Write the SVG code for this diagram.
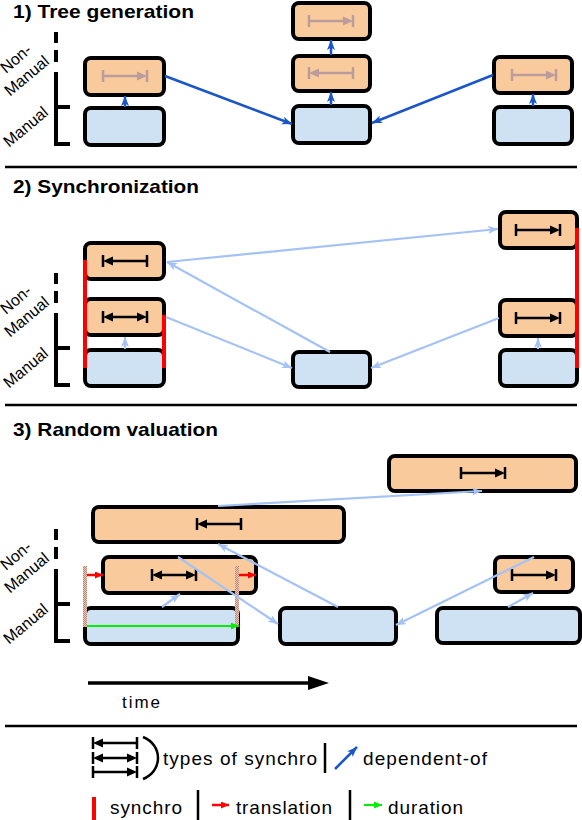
<svg xmlns="http://www.w3.org/2000/svg" width="582" height="820" viewBox="0 0 582 820">
<style>
.t{font-family:"Liberation Sans",Arial,sans-serif;fill:#000}
.title{font-size:19px;font-weight:bold}
.lab{font-size:16px}
.leg{font-size:19px}
.or{fill:#f9cb9c;stroke:#000;stroke-width:4}
.bl{fill:#cfe2f3;stroke:#000;stroke-width:4}
.sep{stroke:#000;stroke-width:2.5}
.axis{fill:none;stroke:#000;stroke-width:4}
.dk{stroke:#1a56c8;stroke-width:2.5;fill:none;marker-end:url(#mDk)}
.lt{stroke:#a4c2f4;stroke-width:2.2;fill:none;marker-end:url(#mLt)}
.red{fill:#ff0000}
</style>
<defs>
<marker id="mDk" markerUnits="userSpaceOnUse" markerWidth="12" markerHeight="10" refX="10" refY="4" orient="auto"><path d="M0,0L10,4L0,8L2.5,4Z" fill="#1a56c8"/></marker>
<marker id="mLt" markerUnits="userSpaceOnUse" markerWidth="12" markerHeight="10" refX="10" refY="4" orient="auto"><path d="M0,0L10,4L0,8L2.5,4Z" fill="#a4c2f4"/></marker>
<marker id="mRed" markerUnits="userSpaceOnUse" markerWidth="10" markerHeight="8" refX="8" refY="3.5" orient="auto"><path d="M0,0L8,3.5L0,7Z" fill="#ff0000"/></marker>
<marker id="mGr" markerUnits="userSpaceOnUse" markerWidth="10" markerHeight="8" refX="8" refY="3.5" orient="auto"><path d="M0,0L8,3.5L0,7Z" fill="#00ee00"/></marker>
<pattern id="hatch" patternUnits="userSpaceOnUse" width="2" height="2"><rect width="2" height="2" fill="#e8cabd"/><rect width="1" height="1" fill="#c08670"/><rect x="1" y="1" width="1" height="1" fill="#c08670"/></pattern>
<g id="sR"><path d="M0,-6V6M44,-6V6M0,0H36" stroke="currentColor" stroke-width="2.5" fill="none"/><path d="M44,0L34,-4.5L34,4.5Z" fill="currentColor"/></g>
<g id="sL"><path d="M0,-6V6M44,-6V6M8,0H44" stroke="currentColor" stroke-width="2.5" fill="none"/><path d="M0,0L10,-4.5L10,4.5Z" fill="currentColor"/></g>
<g id="sB"><path d="M0,-6V6M44,-6V6M8,0H36" stroke="currentColor" stroke-width="2.5" fill="none"/><path d="M0,0L10,-4.5L10,4.5Z" fill="currentColor"/><path d="M44,0L34,-4.5L34,4.5Z" fill="currentColor"/></g>
<g id="axis"><path class="axis" d="M56,32V43M56,50V62M56,72V146M54,107H70M54,144H70"/>
<g transform="translate(16,59) rotate(-40)"><text class="t lab" x="0" y="5" text-anchor="middle">Non-</text></g>
<g transform="translate(27,76) rotate(-40)"><text class="t lab" x="0" y="5" text-anchor="middle">Manual</text></g>
<g transform="translate(26,127) rotate(-40)"><text class="t lab" x="0" y="5" text-anchor="middle">Manual</text></g>
</g>
</defs>

<!-- titles and separators -->
<text class="t title" x="13" y="18" textLength="181" lengthAdjust="spacingAndGlyphs">1) Tree generation</text>
<text class="t title" x="13" y="193" textLength="186" lengthAdjust="spacingAndGlyphs">2) Synchronization</text>
<text class="t title" x="13" y="436" textLength="205" lengthAdjust="spacingAndGlyphs">3) Random valuation</text>
<line class="sep" x1="5" y1="167" x2="577" y2="167"/>
<line class="sep" x1="5" y1="405" x2="577" y2="405"/>
<line class="sep" x1="5" y1="726" x2="577" y2="726"/>

<use href="#axis"/>
<use href="#axis" transform="translate(0,241)"/>
<use href="#axis" transform="translate(0,497)"/>

<!-- Section 1 nodes -->
<g id="s1-left-nm"><rect class="or" x="85" y="58" width="79" height="37" rx="6"/><use href="#sR" transform="translate(103,76)" color="#ba9c9c"/></g>
<g id="s1-left-m"><rect class="bl" x="85" y="108" width="79" height="37" rx="6"/></g>
<g id="s1-mid-nm2"><rect class="or" x="293" y="3" width="77" height="36" rx="6"/><use href="#sR" transform="translate(309,21)" color="#ba9c9c"/></g>
<g id="s1-mid-nm1"><rect class="or" x="293" y="56" width="77" height="35" rx="6"/><use href="#sL" transform="translate(309,73)" color="#ba9c9c"/></g>
<g id="s1-mid-m"><rect class="bl" x="293" y="106" width="77" height="37" rx="6"/></g>
<g id="s1-right-nm"><rect class="or" x="494" y="57" width="78" height="36" rx="6"/><use href="#sR" transform="translate(512,75)" color="#ba9c9c"/></g>
<g id="s1-right-m"><rect class="bl" x="494" y="107" width="78" height="37" rx="6"/></g>

<!-- Section 2 nodes -->
<g id="s2-left-nm2"><rect class="or" x="85" y="243" width="79" height="36" rx="6"/><use href="#sL" transform="translate(103,261)" color="#000"/></g>
<g id="s2-left-nm1"><rect class="or" x="85" y="299" width="79" height="36" rx="6"/><use href="#sB" transform="translate(103,317)" color="#000"/></g>
<g id="s2-left-m"><rect class="bl" x="85" y="350" width="79" height="36" rx="6"/></g>
<g id="s2-mid-m"><rect class="bl" x="293" y="352" width="77" height="35" rx="6"/></g>
<g id="s2-right-nm2"><rect class="or" x="500" y="212" width="77" height="36" rx="6"/><use href="#sR" transform="translate(516,230)" color="#000"/></g>
<g id="s2-right-nm1"><rect class="or" x="500" y="300" width="77" height="36" rx="6"/><use href="#sR" transform="translate(516,318)" color="#000"/></g>
<g id="s2-right-m"><rect class="bl" x="500" y="350" width="77" height="36" rx="6"/></g>
<g id="s2-synchro">
<rect class="red" x="83" y="260" width="4" height="108"/>
<rect class="red" x="162" y="315" width="4" height="53"/>
<rect class="red" x="575" y="228" width="4" height="140"/>
</g>

<!-- Section 3 nodes -->
<g id="s3-nm2-a"><rect class="or" x="93" y="507" width="251" height="35" rx="6"/><use href="#sL" transform="translate(197,524)" color="#000"/></g>
<g id="s3-nm1-a"><rect class="or" x="103" y="557" width="153" height="36" rx="6"/><use href="#sB" transform="translate(152,575)" color="#000"/></g>
<g id="s3-m-a"><rect class="bl" x="85" y="608" width="153" height="36" rx="6"/></g>
<g id="s3-nm2-b"><rect class="or" x="389" y="456" width="187" height="35" rx="6"/><use href="#sR" transform="translate(461,473)" color="#000"/></g>
<g id="s3-m-b"><rect class="bl" x="280" y="608" width="116" height="36" rx="6"/></g>
<g id="s3-m-c"><rect class="bl" x="437" y="608" width="143" height="35" rx="6"/></g>
<g id="s3-nm1-c"><rect class="or" x="495" y="557" width="78" height="35" rx="6"/><use href="#sR" transform="translate(512,575)" color="#000"/></g>
<g id="s3-bounds">
<rect x="83" y="566" width="4" height="61" fill="url(#hatch)"/>
<rect x="235" y="566" width="4" height="61" fill="url(#hatch)"/>
</g>

<!-- connectors -->
<g id="connectors">
<line class="dk" x1="125" y1="107" x2="125" y2="96"/>
<line class="dk" x1="331" y1="105" x2="331" y2="92"/>
<line class="dk" x1="331" y1="55" x2="331" y2="40"/>
<line class="dk" x1="533" y1="106" x2="533" y2="94"/>
<line class="dk" x1="165" y1="76" x2="292" y2="124"/>
<line class="dk" x1="493" y1="75" x2="372" y2="123"/>

<line class="lt" x1="125" y1="349" x2="125" y2="337"/>
<line class="lt" x1="538" y1="349" x2="538" y2="338"/>
<line class="lt" x1="330" y1="352" x2="167" y2="262"/>
<line class="lt" x1="167" y1="262" x2="498" y2="229"/>
<line class="lt" x1="166" y1="317" x2="292" y2="368"/>
<line class="lt" x1="499" y1="318" x2="371" y2="368"/>

<line class="lt" x1="162" y1="607" x2="180" y2="594"/>
<line class="lt" x1="178" y1="557" x2="278" y2="624"/>
<line class="lt" x1="338" y1="607" x2="218" y2="544"/>
<line class="lt" x1="218" y1="506" x2="482" y2="491"/>
<line class="lt" x1="534" y1="557" x2="396" y2="625"/>
<line class="lt" x1="508" y1="607" x2="533" y2="593"/>

<line x1="87" y1="575" x2="103" y2="575" stroke="#ff0000" stroke-width="2.5" marker-end="url(#mRed)"/>
<line x1="239" y1="575" x2="256" y2="575" stroke="#ff0000" stroke-width="2.5" marker-end="url(#mRed)"/>
<line x1="87" y1="626" x2="239" y2="626" stroke="#00ee00" stroke-width="2" marker-end="url(#mGr)"/>
</g>

<!-- time axis -->
<g id="time">
<line x1="88" y1="683" x2="310" y2="683" stroke="#000" stroke-width="3.5"/>
<path d="M308,676L329,683L308,690Z" fill="#000"/>
<text class="t" x="122" y="708" font-size="17" textLength="38" lengthAdjust="spacing">time</text>
</g>

<!-- legend -->
<g id="legend">
<use href="#sL" transform="translate(93,743)" color="#000"/>
<use href="#sB" transform="translate(93,758)" color="#000"/>
<use href="#sR" transform="translate(93,772)" color="#000"/>
<path d="M143,737C163,745 163,771 143,779" fill="none" stroke="#000" stroke-width="2.5"/>
<text class="t leg" x="163" y="765" textLength="154" lengthAdjust="spacing">types of synchro</text>
<line x1="325" y1="743" x2="325" y2="773" stroke="#000" stroke-width="2.5"/>
<line class="dk" x1="335" y1="769" x2="357" y2="747"/>
<text class="t leg" x="363" y="765" textLength="124" lengthAdjust="spacing">dependent-of</text>
<rect class="red" x="92" y="797" width="4" height="23"/>
<text class="t leg" x="110" y="814" textLength="72" lengthAdjust="spacing">synchro</text>
<line x1="198" y1="790" x2="198" y2="820" stroke="#000" stroke-width="2.5"/>
<line x1="212" y1="805" x2="229" y2="805" stroke="#ff0000" stroke-width="2.5" marker-end="url(#mRed)"/>
<text class="t leg" x="236" y="814" textLength="96" lengthAdjust="spacing">translation</text>
<line x1="350" y1="790" x2="350" y2="820" stroke="#000" stroke-width="2.5"/>
<line x1="364" y1="805" x2="382" y2="805" stroke="#00ee00" stroke-width="2" marker-end="url(#mGr)"/>
<text class="t leg" x="388" y="814" textLength="75" lengthAdjust="spacing">duration</text>
</g>
</svg>
